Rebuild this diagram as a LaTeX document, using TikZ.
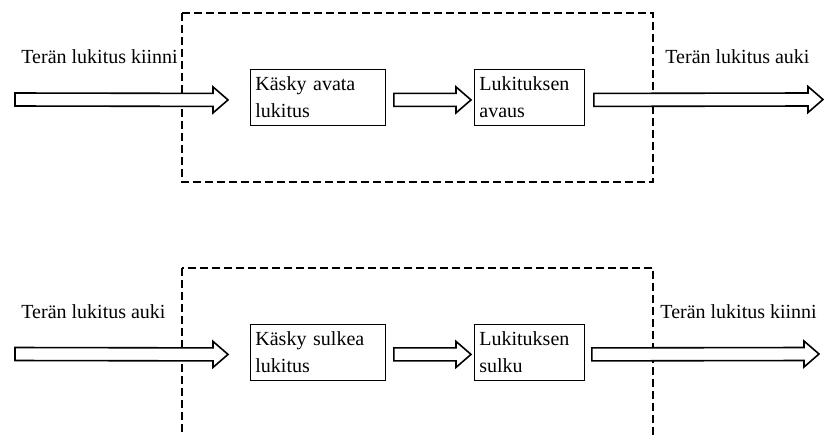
\documentclass[tikz,border=0pt]{standalone}
\usepackage{fontspec}
\setmainfont{Liberation Serif}
\usetikzlibrary{calc,positioning}

% hollow block arrow from one named coordinate to another
\newcommand{\hollowarrow}[2]{%
  \draw[hollow] ($(#1)+(0,-6.5)$) -- ($(#2)+(-15,-6.5)$) -- ($(#2)+(-15,-13)$) -- (#2)
    -- ($(#2)+(-15,13)$) -- ($(#2)+(-15,6.5)$) -- ($(#1)+(0,6.5)$) -- cycle;}

\begin{document}
\begin{tikzpicture}[x=0.5pt, y=-0.5pt,
    every node/.style={font=\fontsize{10}{13.5}\selectfont},
    stepbox/.style={draw, line width=0.4pt, anchor=north west, align=left,
      inner xsep=2.5pt, inner ysep=0pt, minimum height=28pt},
    label/.style={anchor=base west, inner sep=0pt},
    hollow/.style={draw, fill=white, line width=0.8pt, line join=miter},
    dashbox/.style={draw, line width=0.8pt, dash pattern=on 4pt off 2pt}]
    \useasboundingbox (0,0) rectangle (824,435);
    \clip (0,0) rectangle (824,435);

    % opening
    \draw[dashbox] (182,13) rectangle (653,182);
    \node[stepbox, text width=62.5pt] (k1) at (250,69) {Käsky avata\\lukitus};
    \node[stepbox, text width=50pt] (k2) at (474,69) {Lukituksen\\avaus};
    \node[label] (l1) at (21,63) {Terän lukitus kiinni};
    \node[label] (l2) at (665,63) {Terän lukitus auki};
    \coordinate (s1) at (15,99.5);
    \path (k1.west) ++(-22,2.5) coordinate (e1);
    \path (k1.east) ++(8,2.5) coordinate (s2);
    \path (k2.west) ++(-3,2.5) coordinate (e2);
    \path (k2.east) ++(9,2.5) coordinate (s3);
    \coordinate (e3) at (823,99.5);
    \hollowarrow{s1}{e1}
    \hollowarrow{s2}{e2}
    \hollowarrow{s3}{e3}

    % closing
    \draw[dashbox] (182,268) rectangle (653,440);
    \node[stepbox, text width=62.5pt] (k3) at (250,324) {Käsky sulkea\\lukitus};
    \node[stepbox, text width=50pt] (k4) at (474,324) {Lukituksen\\sulku};
    \node[label] (l3) at (21,318) {Terän lukitus auki};
    \node[label] (l4) at (660,318) {Terän lukitus kiinni};
    \coordinate (s4) at (15,354);
    \path (k3.west) ++(-22,2) coordinate (e4);
    \path (k3.east) ++(8,2) coordinate (s5);
    \path (k4.west) ++(-3,2) coordinate (e5);
    \path (k4.east) ++(7,2) coordinate (s6);
    \coordinate (e6) at (819,354);
    \hollowarrow{s4}{e4}
    \hollowarrow{s5}{e5}
    \hollowarrow{s6}{e6}
  \end{tikzpicture}
\end{document}
